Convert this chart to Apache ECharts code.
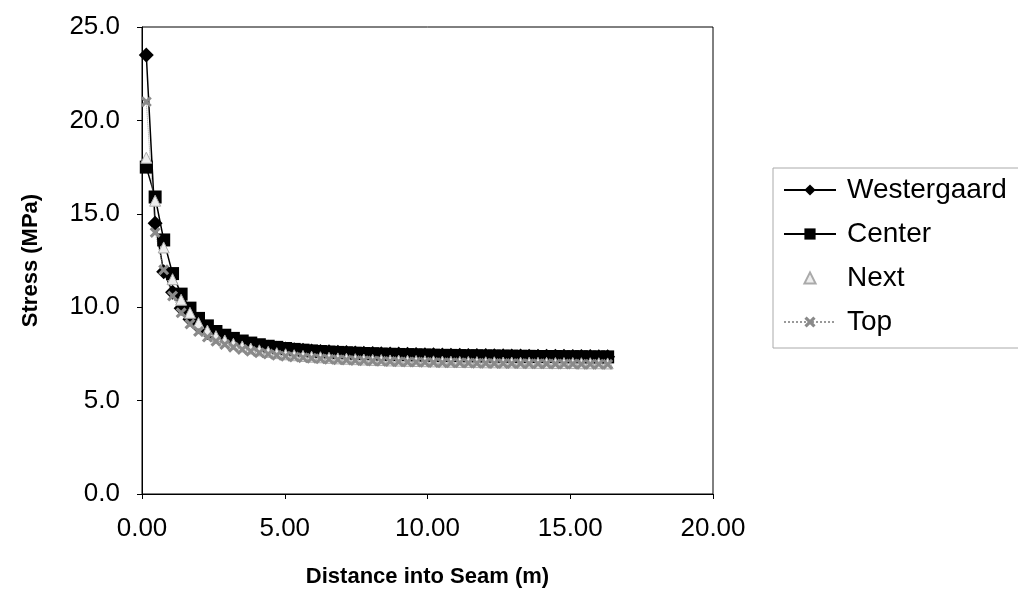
<!DOCTYPE html>
<html>
<head>
<meta charset="utf-8">
<script src="https://cdn.jsdelivr.net/npm/echarts@6/dist/echarts.min.js"></script>
<style>
html,body{margin:0;padding:0;background:#fff;}
#chart{width:1018px;height:601px;}
</style>
</head>
<body>
<div id="chart"></div>
<script>
const distance = [0.15,0.46,0.76,1.07,1.37,1.68,1.98,2.29,2.59,2.90,3.20,3.51,3.81,4.11,4.42,4.72,5.03,5.33,5.64,5.94,6.25,6.55,6.86,7.16,7.47,7.77,8.08,8.38,8.69,8.99,9.30,9.60,9.91,10.21,10.52,10.82,11.13,11.43,11.73,12.04,12.34,12.65,12.95,13.26,13.56,13.87,14.17,14.48,14.78,15.09,15.39,15.70,16.00,16.31];
const westergaard = [23.5,14.5,11.9,10.8,9.95,9.35,8.95,8.65,8.45,8.30,8.17,8.07,7.98,7.91,7.85,7.80,7.76,7.72,7.69,7.66,7.63,7.61,7.59,7.57,7.55,7.54,7.52,7.51,7.50,7.49,7.48,7.47,7.46,7.45,7.44,7.43,7.43,7.42,7.41,7.41,7.40,7.40,7.39,7.39,7.38,7.38,7.37,7.37,7.37,7.36,7.36,7.36,7.35,7.35];
const center = [17.5,15.9,13.6,11.8,10.7,9.95,9.40,9.00,8.70,8.50,8.33,8.19,8.08,7.99,7.91,7.85,7.79,7.74,7.70,7.66,7.63,7.60,7.58,7.56,7.54,7.52,7.51,7.49,7.48,7.47,7.46,7.45,7.44,7.43,7.42,7.42,7.41,7.40,7.40,7.39,7.39,7.38,7.38,7.37,7.37,7.36,7.36,7.36,7.35,7.35,7.35,7.34,7.34,7.34];
const next = [18.0,15.7,13.2,11.5,10.4,9.70,9.15,8.75,8.45,8.22,8.04,7.90,7.79,7.69,7.61,7.54,7.48,7.43,7.39,7.35,7.32,7.29,7.26,7.24,7.22,7.20,7.18,7.17,7.15,7.14,7.13,7.12,7.11,7.10,7.09,7.08,7.07,7.07,7.06,7.05,7.05,7.04,7.04,7.03,7.03,7.02,7.02,7.01,7.01,7.01,7.00,7.00,7.00,6.99];
const top_ = [21.0,14.0,12.0,10.6,9.70,9.10,8.70,8.40,8.18,8.00,7.86,7.74,7.64,7.56,7.49,7.43,7.38,7.34,7.30,7.27,7.24,7.21,7.19,7.17,7.15,7.13,7.12,7.10,7.09,7.08,7.07,7.06,7.05,7.04,7.03,7.02,7.02,7.01,7.00,7.00,6.99,6.99,6.98,6.98,6.97,6.97,6.97,6.96,6.96,6.96,6.95,6.95,6.95,6.94];
const seriesNames = ['Westergaard','Center','Next','Top'];
const yTicks = {min:0, max:25, interval:5};
const xTicks = {min:0, max:20, interval:5};

function pairs(ys){ return distance.map((x,i)=>[x, ys[i]]); }
const crossPath = 'path://M0,2L2,0L5,3L8,0L10,2L7,5L10,8L8,10L5,7L2,10L0,8L3,5Z';
const font = 'Liberation Sans, Arial, sans-serif';

const chart = echarts.init(document.getElementById('chart'), null, {renderer:'canvas'});
chart.setOption({
  animation:false,
  backgroundColor:'#fff',
  grid:{left:142, right:305, top:27, bottom:107, show:true, borderColor:'#000', borderWidth:1, backgroundColor:'transparent'},
  legend:{
    orient:'vertical', left:773, top:168,
    itemWidth:52, itemHeight:14, itemGap:16,
    padding:[8,80,12,10],
    borderColor:'#aaa', borderWidth:1,
    textStyle:{fontFamily:font, fontSize:28, color:'#000', padding:[0,0,0,6]},
    data:seriesNames
  },
  xAxis:{
    type:'value', min:xTicks.min, max:xTicks.max, interval:xTicks.interval,
    name:'Distance into Seam (m)', nameLocation:'middle', nameGap:72,
    nameTextStyle:{fontFamily:font, fontSize:22, fontWeight:'bold', color:'#000'},
    axisLine:{show:true, lineStyle:{color:'#000', width:1}},
    axisTick:{show:true, inside:false, length:5, lineStyle:{color:'#000'}},
    axisLabel:{fontFamily:font, fontSize:26, color:'#000', margin:22, formatter:v=>v.toFixed(2)},
    splitLine:{show:false}
  },
  yAxis:{
    type:'value', min:yTicks.min, max:yTicks.max, interval:yTicks.interval,
    name:'Stress (MPa)', nameLocation:'middle', nameGap:100,
    nameTextStyle:{fontFamily:font, fontSize:22, fontWeight:'bold', color:'#000'},
    axisLine:{show:true, lineStyle:{color:'#000', width:1}},
    axisTick:{show:true, inside:false, length:5, lineStyle:{color:'#000'}},
    axisLabel:{fontFamily:font, fontSize:26, color:'#000', margin:22, formatter:v=>v.toFixed(1)},
    splitLine:{show:false}
  },
  series:[
    {name:seriesNames[0], type:'line', data:pairs(westergaard), symbol:'diamond', symbolSize:15,
     itemStyle:{color:'#000'}, lineStyle:{color:'#000', width:1.5}},
    {name:seriesNames[1], type:'line', data:pairs(center), symbol:'rect', symbolSize:13,
     itemStyle:{color:'#000'}, lineStyle:{color:'#000', width:1.5}},
    {name:seriesNames[2], type:'line', data:pairs(next), symbol:'triangle', symbolSize:11,
     itemStyle:{color:'#eeeeee', borderColor:'#aaa', borderWidth:1}, lineStyle:{opacity:0}},
    {name:seriesNames[3], type:'line', data:pairs(top_), symbol:crossPath, symbolSize:11,
     itemStyle:{color:'#8a8a8a'}, lineStyle:{color:'#999', width:1, type:'dotted'}}
  ]
});
</script>
</body>
</html>
